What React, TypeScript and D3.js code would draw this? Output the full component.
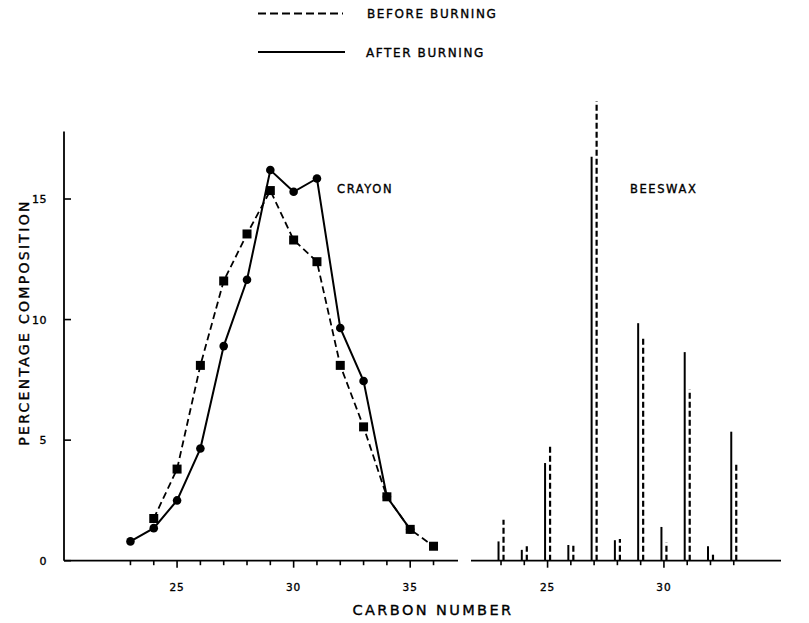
// Hydrocarbon composition of crayon and beeswax, before / after burning.
// D3 scales for positions; React renders the SVG.

import * as d3 from "d3";

// ── Data ──────────────────────────────────────────────────────────────────────

const crayonBeforeCarbon = [24, 25, 26, 27, 28, 29, 30, 31, 32, 33, 34, 35, 36];
const crayonBeforeValues = [1.75, 3.8, 8.1, 11.6, 13.55, 15.35, 13.3, 12.4, 8.1, 5.55, 2.65, 1.3, 0.6];

const crayonAfterCarbon = [23, 24, 25, 26, 27, 28, 29, 30, 31, 32, 33, 34, 35];
const crayonAfterValues = [0.8, 1.35, 2.5, 4.65, 8.9, 11.65, 16.2, 15.3, 15.85, 9.65, 7.45, 2.65, 1.3];

const beeswaxCarbon = [23, 24, 25, 26, 27, 28, 29, 30, 31, 32, 33];
const beeswaxBefore = [1.7, 0.6, 4.75, 0.65, 19.05, 0.9, 9.2, 0.75, 7.1, 0.3, 4.1];
const beeswaxAfter = [0.8, 0.45, 4.05, 0.65, 16.75, 0.85, 9.85, 1.4, 8.65, 0.6, 5.35];

const yTicks = [0, 5, 10, 15];
const crayonTicks = d3.range(23, 37);
const crayonLabels = [25, 30, 35];
const beeswaxTicks = d3.range(23, 34);
const beeswaxLabels = [25, 30];

// ── Layout ────────────────────────────────────────────────────────────────────

const W = 809;
const H = 623;
const FONT = "'DejaVu Sans', 'Liberation Sans', sans-serif";
// thin outline on text to mimic the heavier lettering-guide strokes
const INK = { fill: "#000", stroke: "#000", strokeWidth: 0.35 };

const y = d3.scaleLinear().domain([0, 15]).range([560.7, 199]);
const xCrayon = d3.scaleLinear().domain([20.15, 37.05]).range([64, 458]);
const xBees = d3.scaleLinear().domain([21.71, 35.03]).range([471, 781]);

export default function App() {
  const squareLine = d3
    .line<number>()
    .x((_, i) => xCrayon(crayonBeforeCarbon[i]))
    .y((d) => y(d));
  const circleLine = d3
    .line<number>()
    .x((_, i) => xCrayon(crayonAfterCarbon[i]))
    .y((d) => y(d));

  const yTop = y(17.8);

  return (
    <svg width={W} height={H} style={{ position: "absolute", left: 0, top: 0, background: "#fff" }}>
      {/* legend */}
      <g fontFamily={FONT} fontSize={12} letterSpacing={1.6} {...INK}>
        <text x={367} y={18.3}>BEFORE BURNING</text>
        <text x={366} y={56.5}>AFTER BURNING</text>
      </g>
      <line x1={258} x2={343} y1={13.5} y2={13.5} stroke="#000" strokeWidth={1.8} strokeDasharray="8,4" />
      <line x1={258} x2={345} y1={52} y2={52} stroke="#000" strokeWidth={1.8} />

      {/* y axis */}
      <line x1={64} x2={64} y1={yTop} y2={y(0)} stroke="#000" strokeWidth={1.8} />
      {yTicks.map((t) => (
        <g key={t}>
          <line x1={64} x2={71} y1={y(t)} y2={y(t)} stroke="#000" strokeWidth={1.6} />
          <text x={47} y={y(t) + 4} textAnchor="end" fontFamily={FONT} fontSize={11} letterSpacing={0.5} {...INK}>
            {t}
          </text>
        </g>
      ))}
      <text
        transform={`translate(28.5,${(190 + 455) / 2}) rotate(-90)`}
        textAnchor="middle"
        fontFamily={FONT}
        fontSize={14}
        letterSpacing={2.3}
        {...INK}
      >
        PERCENTAGE  COMPOSITION
      </text>

      {/* crayon x axis */}
      <line x1={64} x2={458} y1={y(0)} y2={y(0)} stroke="#000" strokeWidth={1.8} />
      {crayonTicks.map((t) => (
        <line
          key={t}
          x1={xCrayon(t)}
          x2={xCrayon(t)}
          y1={y(0)}
          y2={y(0) + (crayonLabels.includes(t) ? 7 : 4.5)}
          stroke="#000"
          strokeWidth={1.6}
        />
      ))}
      {crayonLabels.map((t) => (
        <text key={t} x={xCrayon(t)} y={591} textAnchor="middle" fontFamily={FONT} fontSize={10.5} letterSpacing={1} {...INK}>
          {t}
        </text>
      ))}

      {/* beeswax x axis */}
      <line x1={471} x2={781} y1={y(0)} y2={y(0)} stroke="#000" strokeWidth={1.8} />
      {beeswaxTicks.map((t) => (
        <line
          key={t}
          x1={xBees(t)}
          x2={xBees(t)}
          y1={y(0)}
          y2={y(0) + (beeswaxLabels.includes(t) ? 7 : 4.5)}
          stroke="#000"
          strokeWidth={1.6}
        />
      ))}
      {beeswaxLabels.map((t) => (
        <text key={t} x={xBees(t)} y={591} textAnchor="middle" fontFamily={FONT} fontSize={10.5} letterSpacing={1} {...INK}>
          {t}
        </text>
      ))}

      <text x={433} y={615} textAnchor="middle" fontFamily={FONT} fontSize={14.5} letterSpacing={2.4} {...INK}>
        CARBON NUMBER
      </text>

      {/* crayon lines */}
      <path d={squareLine(crayonBeforeValues) ?? ""} fill="none" stroke="#000" strokeWidth={1.8} strokeDasharray="7,4" />
      <path d={circleLine(crayonAfterValues) ?? ""} fill="none" stroke="#000" strokeWidth={2} />
      {crayonBeforeValues.map((v, i) => (
        <rect
          key={"s" + i}
          x={xCrayon(crayonBeforeCarbon[i]) - 4.5}
          y={y(v) - 4.5}
          width={9}
          height={9}
          fill="#000"
        />
      ))}
      {crayonAfterValues.map((v, i) => (
        <circle key={"c" + i} cx={xCrayon(crayonAfterCarbon[i])} cy={y(v)} r={4.3} fill="#000" />
      ))}
      <text x={337} y={193} fontFamily={FONT} fontSize={11.5} letterSpacing={1.6} {...INK}>
        CRAYON
      </text>

      {/* beeswax bars */}
      {beeswaxCarbon.map((c, i) => (
        <g key={c}>
          <line
            x1={xBees(c) - 2.5}
            x2={xBees(c) - 2.5}
            y1={y(0)}
            y2={y(beeswaxAfter[i])}
            stroke="#000"
            strokeWidth={2}
          />
          <line
            x1={xBees(c) + 2.5}
            x2={xBees(c) + 2.5}
            y1={y(0)}
            y2={y(beeswaxBefore[i])}
            stroke="#000"
            strokeWidth={2.2}
            strokeDasharray="6,3"
          />
        </g>
      ))}
      <text x={630} y={193} fontFamily={FONT} fontSize={11.5} letterSpacing={1.6} {...INK}>
        BEESWAX
      </text>
    </svg>
  );
}
